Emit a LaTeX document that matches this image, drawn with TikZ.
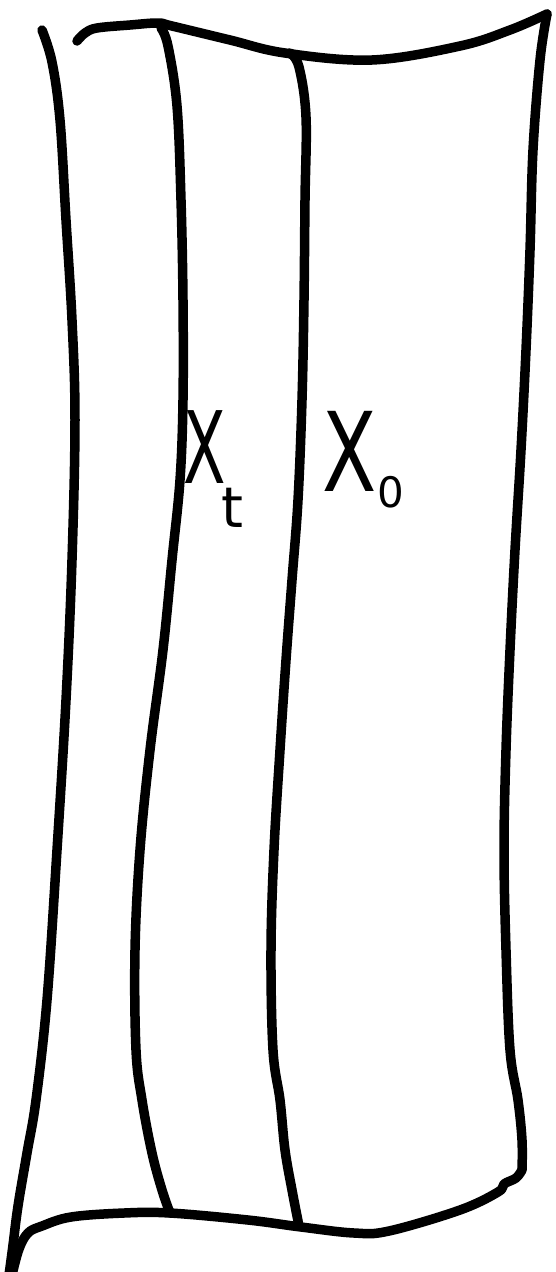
\documentclass[tikz,border=0pt]{standalone}
\usepackage{fontspec}
\newfontfamily\hand{DejaVu Sans}
\begin{document}
\begin{tikzpicture}[x=1pt,y=-1pt,
  pen/.style={line width=9.5pt,line cap=round,line join=round},
  lbl/.style={inner sep=0pt,anchor=base west,font=\hand}]
\useasboundingbox[fill=white] (0,0) rectangle (555,1272);
% left edge
\draw[pen] plot[smooth,tension=0.6] coordinates {(42,30) (52,62) (60,120) (66,220) (72,320) (75,420) (72,560) (66,700) (57,850) (47,1000) (36,1100) (27,1153) (18,1206) (13,1245) (9,1275)};
% top edge
\draw[pen] plot[smooth,tension=0.6] coordinates {(77,41) (85,33) (97,28) (130,25) (158,23) (172,26) (230,40) (285,53) (372,60) (460,46) (510,30) (547,14)};
% first inner line
\draw[pen] plot[smooth,tension=0.6] coordinates {(161,28) (168,46) (177,106) (181,200) (183,300) (183,400) (180,480) (172,560) (163,650) (150,750) (140,850) (135,950) (136,1050) (142,1100) (152,1153) (162,1190) (170,1213)};
% second inner line
\draw[pen] plot[smooth,tension=0.6] coordinates {(290,53) (299,67) (306,117) (305,200) (304,300) (302,400) (298,500) (292,580) (286,660) (280,750) (274,850) (271,950) (273,1050) (280,1100) (285,1150) (292,1190) (299,1226)};
% right edge
\draw[pen] plot[smooth,tension=0.6] coordinates {(547,14) (540,60) (533,150) (530,250) (526,350) (521,450) (515,550) (510,650) (506,750) (504,850) (506,950) (510,1050) (518,1100) (522,1140) (522,1170)};
% bottom edge
\draw[pen] plot[smooth,tension=0.6] coordinates {(522,1170) (516,1178) (504,1184) (498,1192) (460,1210) (389,1231) (354,1233) (301,1227) (248,1220) (170,1213) (124,1213) (71,1217) (42,1226) (28,1233) (19,1249) (12,1275)};
% labels
\node[lbl] (xt) at (183,483) {\fontsize{100}{100}\selectfont\scalebox{0.62}[1]{X}\hspace{-4pt}\raisebox{-44pt}{\fontsize{56}{56}\selectfont t}};
\node[lbl] (x0) at (322,491) {\fontsize{110}{110}\selectfont\scalebox{0.72}[1]{X}\hspace{1pt}\raisebox{-16pt}{\fontsize{42}{42}\selectfont 0}};
\end{tikzpicture}
\end{document}
